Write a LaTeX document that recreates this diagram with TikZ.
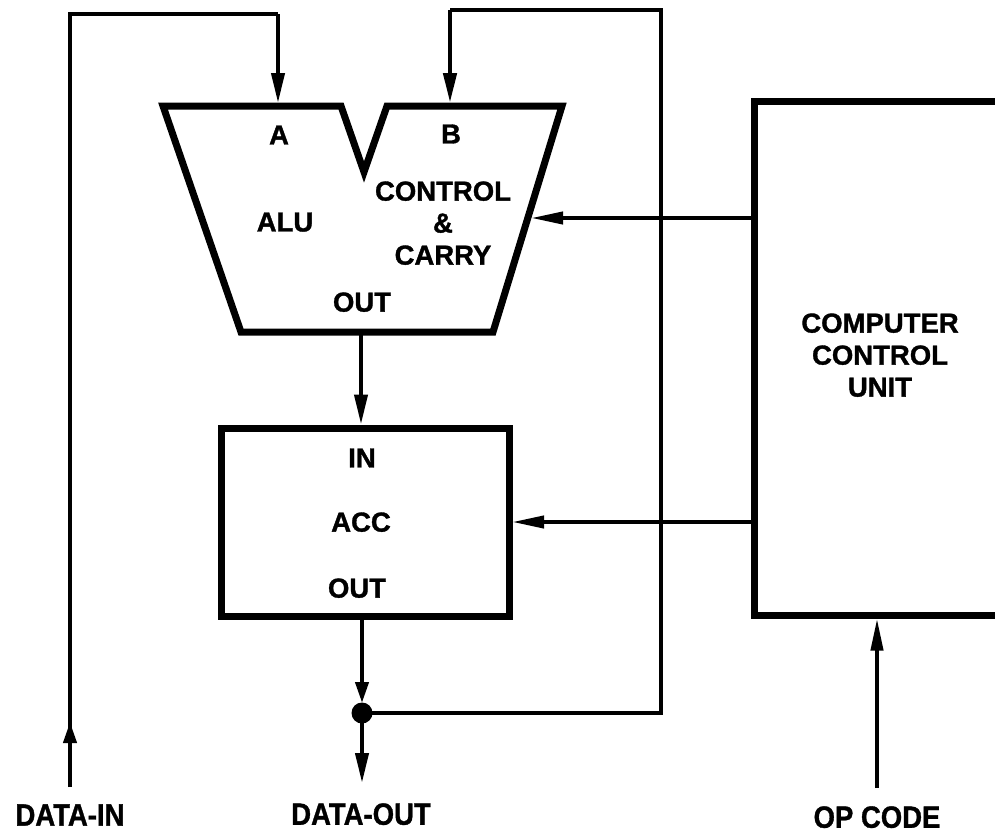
\documentclass[tikz,border=0pt]{standalone}
\usepackage{fontspec}
\setmainfont{Liberation Sans}[BoldFeatures={FakeBold=1.2}]
\usetikzlibrary{arrows.meta}
\begin{document}
\begin{tikzpicture}[x=1pt,y=-1pt,
  box/.style={line width=7pt, line join=miter},
  wire/.style={line width=4pt},
  fbwire/.style={line width=4.5pt},
  headL/.style={-{Triangle[length=30pt,width=13pt]}},
  headS/.style={-{Triangle[length=21pt,width=13pt]}},
  lbl/.style={font=\fontsize{27.5}{32}\selectfont\bfseries, inner sep=0pt, align=center, text depth=0pt},
  blbl/.style={font=\fontsize{27.5}{32}\selectfont\bfseries, inner sep=0pt, text depth=0pt}
]
\useasboundingbox (0,0) rectangle (995,833);
\clip (0,0) rectangle (995,833);

% ALU outline
\draw[box] (163,106) -- (341,106) -- (364,172) -- (387,106) -- (562,106) -- (493,332) -- (241,332) -- cycle;
\node[lbl] (lA) at (279,135) {A};
\node[lbl] (lB) at (451,134) {B};
\node[lbl] (lALU) at (285,222) {ALU};
\node[lbl] (lCtl) at (443,223) {CONTROL\\\&\\CARRY};
\node[lbl] (lAout) at (362,302) {OUT};

% ACC
\node[draw, box, minimum width=288pt, minimum height=188pt, inner sep=0pt] (acc) at (365,522) {};
\node[lbl] (lIn) at (362,458) {IN};
\node[lbl] (lAcc) at (361,522) {ACC};
\node[lbl] (lOut) at (357,588) {OUT};

% Computer control unit
\node[draw, box, minimum width=346pt, minimum height=514pt, inner sep=0pt] (ccu) at (927,358) {};
\node[lbl] (lCcu) at (880,355) {COMPUTER\\CONTROL\\UNIT};

% coordinates
\coordinate (din) at (70,787);
\coordinate (dinA) at (70,758);
\coordinate (dinB) at (70,722);
\coordinate (tl) at (70,14);
\coordinate (tA) at (278,14);
\coordinate (aluA) at (278,103);
\coordinate (tB) at (450,10);
\coordinate (aluB) at (450,103);
\coordinate (tR) at (661,10);
\coordinate (fbR) at (661,713);
\coordinate (dot) at (362,713);
\coordinate (dotTop) at (362,703);
\coordinate (dout) at (362,783);
\coordinate (aluOut) at (361,335);
\coordinate (accOut) at (362,619);
\coordinate (aluC) at (531,218);
\coordinate (accC) at (512,522);
\coordinate (op) at (877,788);

% data in / A input
\draw[wire] (din) -- (tl) -- (tA);
\draw[wire, headL] (tA) -- (aluA);
\draw[wire, headS] (dinA) -- (dinB);

% feedback / B input
\draw[fbwire] (dot) -- (fbR) -- (tR) -- (tB);
\draw[fbwire, headL] (tB) -- (aluB);

% ALU out -> ACC in
\draw[wire, headL] (aluOut) -- (aluOut |- acc.north);

% ACC out -> data out
\draw[wire, headS] (accOut) -- (dotTop);
\fill (dot) circle (10.5pt);
\draw[wire, headL] (dot) -- (dout);

% control lines
\draw[wire, -{Triangle[length=32pt,width=12pt]}] (ccu.west |- aluC) -- (aluC);
\draw[wire, -{Triangle[length=32pt,width=12pt]}] (ccu.west |- accC) -- (accC);
\draw[wire, -{Triangle[length=32pt,width=12pt]}] (op) -- (op |- ccu.south);

% bottom labels
\node[blbl] (lDin) at (70,815) {\scalebox{1}[1.12]{DATA-IN}};
\node[blbl] (lDout) at (361,814) {\scalebox{1}[1.12]{DATA-OUT}};
\node[blbl] (lOp) at (877,817) {\scalebox{1}[1.12]{OP CODE}};
\end{tikzpicture}
\end{document}
